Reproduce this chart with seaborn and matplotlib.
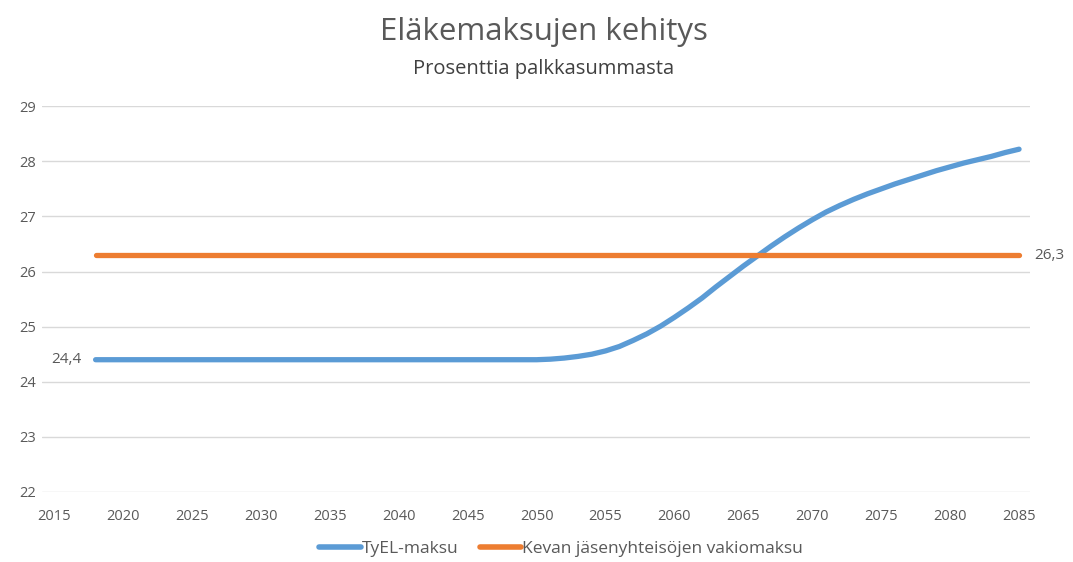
"""Eläkemaksujen kehitys - TyEL vs Kevan vakiomaksu."""

import pandas as pd
import matplotlib.pyplot as plt
import seaborn as sns

# TyEL-maksu
tyel_years = [2018, 2020, 2025, 2030, 2035, 2040, 2045, 2050, 2051, 2052,
              2053, 2054, 2055, 2056, 2057, 2058, 2059, 2060, 2061, 2062,
              2063, 2064, 2065, 2066, 2067, 2068, 2069, 2070, 2071, 2072,
              2073, 2074, 2075, 2076, 2077, 2078, 2079, 2080, 2081, 2082,
              2083, 2084, 2085]
tyel_values = [24.4, 24.4, 24.4, 24.4, 24.4, 24.4, 24.4, 24.4, 24.41, 24.43,
               24.46, 24.5, 24.56, 24.64, 24.75, 24.87, 25.01, 25.17, 25.34, 25.52,
               25.72, 25.91, 26.1, 26.28, 26.46, 26.63, 26.79, 26.94, 27.08, 27.2,
               27.31, 27.41, 27.5, 27.59, 27.67, 27.75, 27.83, 27.9, 27.97, 28.03,
               28.09, 28.16, 28.22]

# Kevan jäsenyhteisöjen vakiomaksu
keva_years = [2018, 2085]
keva_values = [26.3, 26.3]

series_names = ['TyEL-maksu', 'Kevan jäsenyhteisöjen vakiomaksu']
x_ticks = list(range(2015, 2090, 5))
y_ticks = list(range(22, 30))

TEXT = '#595959'
BLUE = '#5B9BD5'
ORANGE = '#ED7D31'

df = pd.concat([
    pd.DataFrame({'vuosi': tyel_years, 'arvo': tyel_values, 'sarja': series_names[0]}),
    pd.DataFrame({'vuosi': keva_years, 'arvo': keva_values, 'sarja': series_names[1]}),
])

sns.set_theme(style='white')
plt.rcParams['font.family'] = ['Open Sans', 'DejaVu Sans']

fig = plt.figure(figsize=(10.73, 5.62), dpi=100)
ax = fig.add_axes([0.039, 0.1246, 0.921, 0.6864])

sns.lineplot(data=df, x='vuosi', y='arvo', hue='sarja',
             palette=[BLUE, ORANGE], linewidth=3.8, ax=ax,
             solid_capstyle='round', solid_joinstyle='round', legend=False)

ax.set_xlim(2014.1, 2085.8)
ax.set_ylim(22, 29)
ax.set_xticks(x_ticks)
ax.set_yticks(y_ticks)
ax.tick_params(axis='both', colors=TEXT, labelsize=10.5, length=0)
ax.tick_params(axis='x', pad=12)
ax.tick_params(axis='y', pad=4)
ax.set_xlabel('')
ax.set_ylabel('')
ax.grid(axis='y', color='#D9D9D9', linewidth=1)
for s in ax.spines.values():
    s.set_visible(False)

# data labels
ax.annotate(f'{tyel_values[0]:.1f}'.replace('.', ','), (tyel_years[0], tyel_values[0]),
            xytext=(-10, 0), textcoords='offset points', ha='right', va='center',
            color=TEXT, fontsize=11)
ax.annotate(f'{keva_values[-1]:.1f}'.replace('.', ','), (keva_years[-1], keva_values[-1]),
            xytext=(11, 0), textcoords='offset points', ha='left', va='center',
            color=TEXT, fontsize=11, annotation_clip=False)

fig.text(0.507, 0.943, 'Eläkemaksujen kehitys', ha='center', va='center',
         fontsize=22.5, color=TEXT)
fig.text(0.507, 0.878, 'Prosenttia palkkasummasta', ha='center', va='center',
         fontsize=14.5, color='#404040')

handles = [plt.Line2D([], [], color=BLUE, lw=4, solid_capstyle='round'),
           plt.Line2D([], [], color=ORANGE, lw=4, solid_capstyle='round')]
fig.legend(handles, series_names, loc='center', bbox_to_anchor=(0.523, 0.024),
           ncol=2, frameon=False, fontsize=12.5, labelcolor=TEXT,
           handlelength=2.4, handletextpad=0.05, columnspacing=1.2)

fig.savefig('out.png', dpi=100)
